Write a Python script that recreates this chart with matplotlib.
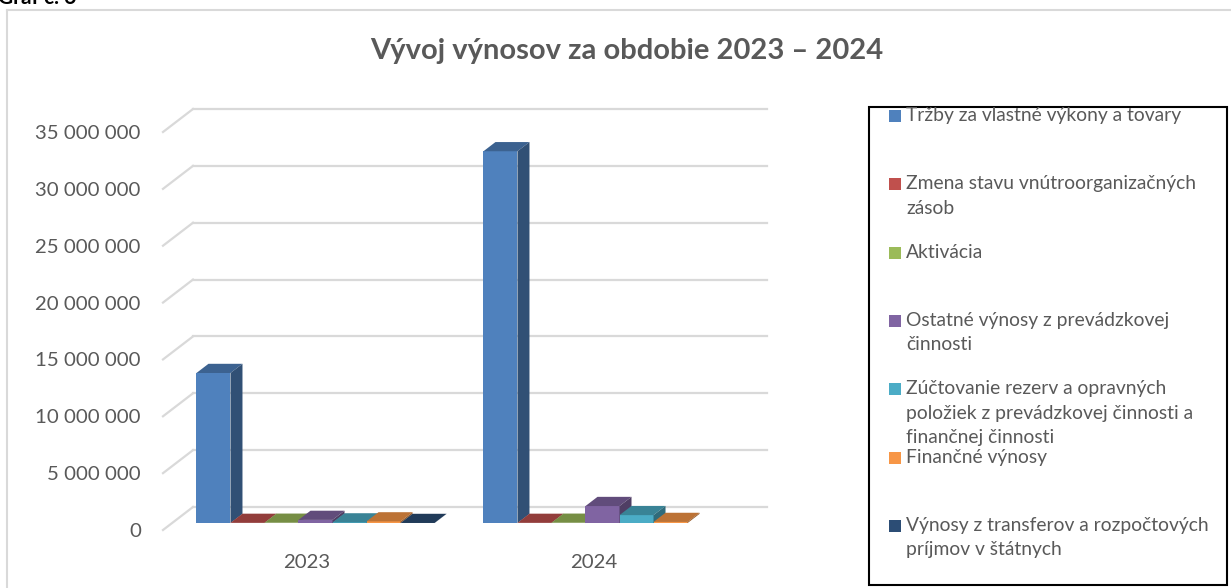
import numpy as np
import matplotlib
matplotlib.use("Agg")
from matplotlib import pyplot as plt
from matplotlib.patches import Polygon, Rectangle
from matplotlib.lines import Line2D

# data
years = ["2023", "2024"]
series = [
    "Tržby za vlastné výkony a tovary",
    "Zmena stavu vnútroorganizačných\nzásob",
    "Aktivácia",
    "Ostatné výnosy z prevádzkovej\nčinnosti",
    "Zúčtovanie rezerv a opravných\npoložiek z prevádzkovej činnosti a\nfinančnej činnosti",
    "Finančné výnosy",
    "Výnosy z transferov a rozpočtových\npríjmov v štátnych",
]
vals_2023 = [13200000, 20000, 30000, 280000, 60000, 150000, 10000]
vals_2024 = [32700000, 20000, 30000, 1500000, 700000, 100000, np.nan]
yticks = [0, 5000000, 10000000, 15000000, 20000000, 25000000, 30000000, 35000000]

colors = ["#4F81BD", "#C0504D", "#9BBB59", "#8064A2", "#4BACC6", "#F79646", "#2C4D75"]
text_col = "#595959"
grid_col = "#D9D9D9"

plt.rcParams["font.family"] = ["Lato", "DejaVu Sans"]

W, H = 1231, 588
fig = plt.figure(figsize=(W / 100, H / 100), dpi=100)

# front plane of the 3d box, in pixels
left, right, bottom, top = 163, 737, 530, 132
ax = fig.add_axes([left / W, 1 - bottom / H, (right - left) / W, (bottom - top) / H])
ymax = 35000000
ax.set_xlim(0, 2)
ax.set_ylim(0, ymax)
for s in ax.spines.values():
    s.set_visible(False)

# depth of floor (30 px right, 23 px up) in data units
DX = 30 / ((right - left) / 2)
DY = 23 * ymax / (bottom - top)

for v in yticks:
    ax.add_line(Line2D([DX, 2 + DX], [v + DY, v + DY], color=grid_col, lw=1.6, clip_on=False, zorder=1))
    ax.add_line(Line2D([0, DX], [v, v + DY], color=grid_col, lw=1.6, clip_on=False, zorder=1))

ax.set_yticks(yticks)
ax.set_yticklabels([f"{v:,.0f}".replace(",", " ") for v in yticks])
ax.set_xticks([0.5, 1.5])
ax.set_xticklabels(years)
ax.tick_params(length=0, labelsize=14.7, labelcolor=text_col)
ax.tick_params(axis="y", pad=16)
ax.tick_params(axis="x", pad=17)


def shade(c, f):
    r, g, b = matplotlib.colors.to_rgb(c)
    return (r * f, g * f, b * f)


bar_w = 0.1185
g_off = (1 - len(series) * bar_w) / 2
fx, fy = 0.3 * DX, 0.3 * DY
bdx, bdy = 0.4 * DX, 0.4 * DY

z = 3
for ci, vals in enumerate([vals_2023, vals_2024]):
    for i, v in enumerate(vals):
        if np.isnan(v):
            continue
        x0 = ci + g_off + i * bar_w + fx
        b = fy
        ax.bar(x0, v, width=bar_w, bottom=b, align="edge", color=colors[i], lw=0, zorder=z, clip_on=False)
        t = b + v
        top_face = [(x0, t), (x0 + bar_w, t), (x0 + bar_w + bdx, t + bdy), (x0 + bdx, t + bdy)]
        side_face = [(x0 + bar_w, b), (x0 + bar_w, t), (x0 + bar_w + bdx, t + bdy), (x0 + bar_w + bdx, b + bdy)]
        ax.add_patch(Polygon(top_face, closed=True, color=shade(colors[i], 0.76), lw=0, zorder=z, clip_on=False))
        ax.add_patch(Polygon(side_face, closed=True, color=shade(colors[i], 0.62), lw=0, zorder=z, clip_on=False))
        z += 1

fig.text(627 / W, 1 - 51 / H, "Vývoj výnosov za obdobie 2023 – 2024", ha="center", va="center",
         fontsize=21, fontweight="bold", color=text_col)

# cut-off caption of the document above the chart
fig.text(-2 / W, 1 - 4 / H, "Graf č. 6", ha="left", va="baseline", fontsize=15, fontweight="bold", color="black")

# grey chart border (top and left visible)
fig.add_artist(Line2D([7 / W, 1], [1 - 10 / H, 1 - 10 / H], color=grid_col, lw=1.5))
fig.add_artist(Line2D([7 / W, 7 / W], [1 - 10 / H, 0], color=grid_col, lw=1.5))

# legend box
fig.add_artist(Rectangle((869 / W, 1 - 585 / H), (1227 - 869) / W, (585 - 107) / H,
                         fill=False, edgecolor="black", lw=1.5))
for i, name in enumerate(series):
    yc = 116 + i * 68.3
    fig.add_artist(Rectangle((889 / W, 1 - (yc + 6) / H), 12 / W, 12 / H, color=colors[i], lw=0))
    fig.text(906 / W, 1 - (yc - 9) / H, name, ha="left", va="top", fontsize=13.85, color=text_col,
             linespacing=1.53)

fig.savefig("out.png", dpi=100)
